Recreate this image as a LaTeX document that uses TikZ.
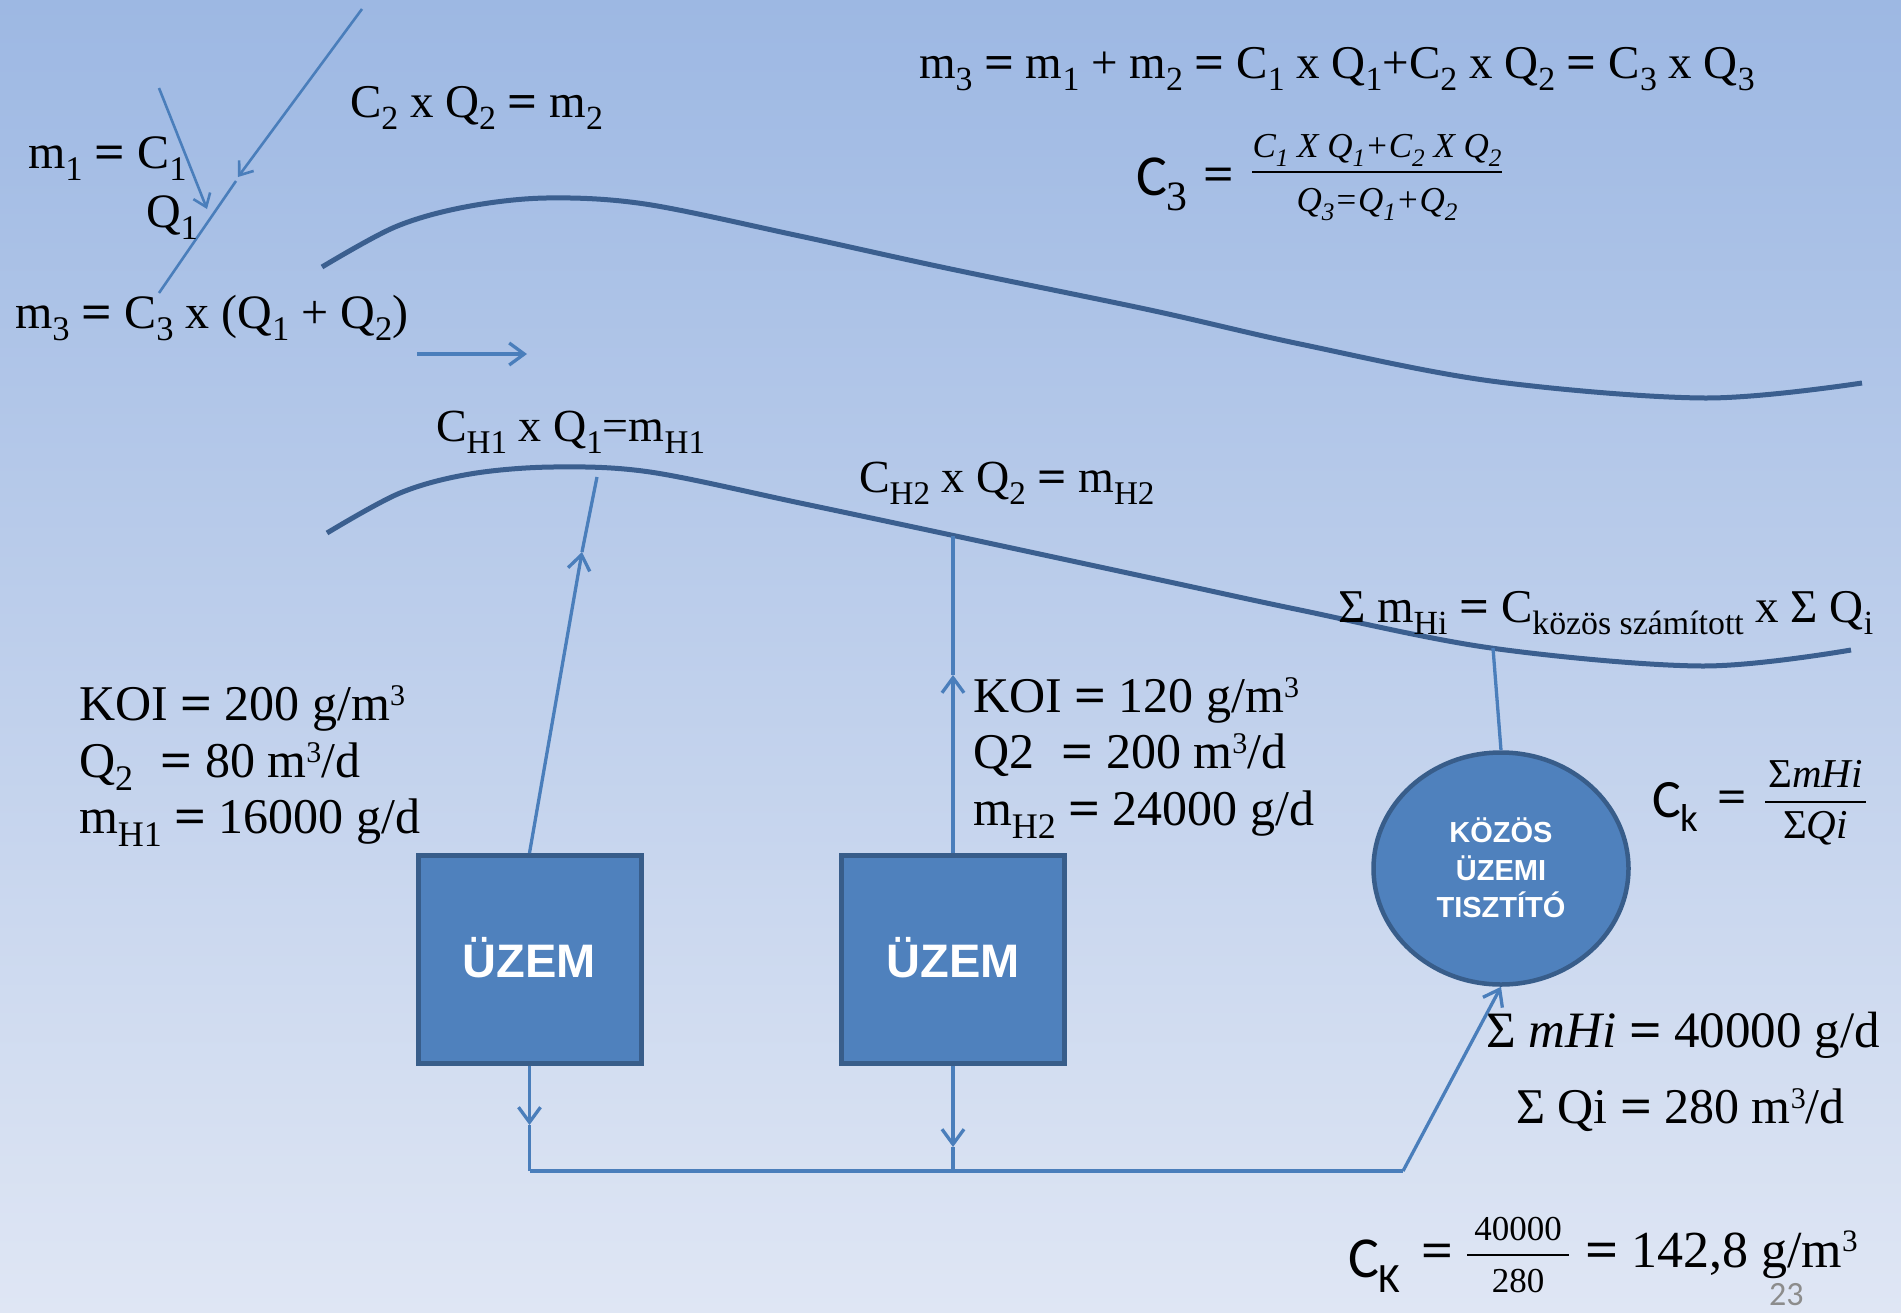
\documentclass[tikz,border=0pt]{standalone}
\usepackage{fontspec}
\usepackage{graphicx}
\setmainfont{Liberation Serif}
\newfontfamily\arialf{Liberation Sans}
\newfontfamily\carl{Carlito}
\usetikzlibrary{arrows.meta,shapes.geometric}
\definecolor{bgtop}{HTML}{9DB8E3}
\definecolor{bgbot}{HTML}{DFE6F4}
\definecolor{curvec}{HTML}{3B5F8F}
\definecolor{conn}{HTML}{4A7EBB}
\definecolor{boxfill}{HTML}{4F81BD}
\definecolor{boxbd}{HTML}{385D8A}
\definecolor{pgnum}{HTML}{8C8C8C}
\newcommand\sbx[1]{\raisebox{-0.27em}{\scalebox{0.72}{#1}}}
\newcommand\spx[1]{\raisebox{0.3em}{\scalebox{0.6}{#1}}}
\newcommand\eq{\scalebox{1.12}[1]{\textbf{=}}}
\begin{document}
\begin{tikzpicture}[x=1pt,y=-1pt,
  lbl/.style={anchor=base west, inner sep=0pt, outer sep=0pt, font=\fontsize{#1}{#1}\selectfont},
  lblc/.style={anchor=base, inner sep=0pt, outer sep=0pt, font=\fontsize{#1}{#1}\selectfont},
  wlbl/.style={anchor=base, inner sep=0pt, text=white, font=\arialf\bfseries\fontsize{#1}{#1}\selectfont},
  ubox/.style={draw=boxbd, fill=boxfill, line width=5pt, minimum width=223pt, minimum height=208pt, inner sep=0pt},
  kell/.style={ellipse, draw=boxbd, fill=boxfill, line width=4.5pt, minimum width=255pt, minimum height=232pt, inner sep=0pt},
  curve/.style={draw=curvec, line width=5pt},
  cline/.style={draw=conn, line width=3.3pt},
  thin/.style={draw=conn, line width=2.6pt},
  arr/.style={cline, -{Straight Barb[length=15pt,width=22pt]}},
  sarr/.style={thin, -{Straight Barb[length=12pt,width=18pt]}},
  frule/.style={draw=black, line width=2.4pt}
]
\useasboundingbox (0,0) rectangle (1901,1312);
\shade[top color=bgtop, bottom color=bgbot] (0,0) rectangle (1901,1312);

% curves
\draw[curve] plot[smooth,tension=0.55] coordinates {(322,267) (395,227) (465,207) (546,198) (645,204) (795,235) (946,268) (1150,310) (1300,344) (1491,381) (1705,398) (1862,383)};
\draw[curve] plot[smooth,tension=0.55] coordinates {(327,533) (400,493) (470,474) (553,467) (650,472) (800,503) (951,535) (1165,581) (1300,610) (1491,648) (1702,666) (1851,650)};

% top-left streams
\coordinate (ta1) at (362,9);
\coordinate (ta2) at (238,177);
\coordinate (tb1) at (236,181);
\coordinate (tb2) at (159,293);
\coordinate (tc1) at (159,88);
\coordinate (tc2) at (207,209);
\coordinate (ar1) at (417,354);
\coordinate (ar2) at (527,354);
\draw[sarr] (ta1) -- (ta2);
\draw[thin] (tb1) -- (tb2);
\draw[sarr] (tc1) -- (tc2);
\draw[arr] (ar1) -- (ar2);

% boxes and treatment plant
\node[ubox] (u1) at (529.5,959.5) {};
\node[ubox] (u2) at (953,959.5) {};
\node[wlbl=47] (u1t) at (529.5,977.5) {ÜZEM};
\node[wlbl=47] (u2t) at (953,977.5) {ÜZEM};
\node[kell] (k) at (1501,868.5) {};
\node[wlbl=29] (kt1) at (1501,842) {KÖZÖS};
\node[wlbl=29] (kt2) at (1501,880) {ÜZEMI};
\node[wlbl=29] (kt3) at (1501,917) {TISZTÍTÓ};

% connectors
\coordinate (h1a) at (582,552);
\coordinate (h1b) at (597,477);
\coordinate (h2a) at (953,675);
\coordinate (h2b) at (953,536);
\coordinate (d1a) at (529.5,1125);
\coordinate (d2a) at (953,1147);
\coordinate (j1) at (529.5,1171);
\coordinate (j2) at (953,1171);
\coordinate (j3) at (1403,1171);
\coordinate (s1) at (1493,648);
\draw[arr] (u1.north) -- (h1a);
\draw[cline] (h1a) -- (h1b);
\draw[arr] (u2.north) -- (h2a);
\draw[cline] (h2a) -- (h2b);
\draw[arr] (u1.south) -- (d1a);
\draw[cline] (d1a) -- (j1);
\draw[arr] (u2.south) -- (d2a);
\draw[cline] (d2a) -- (j2);
\draw[cline] (j1) -- (j3);
\draw[arr] (j3) -- (k.south);
\draw[cline] (k.north) -- (s1);

% top-left texts
\node[lbl=48] (t1) at (28,168) {m\sbx{1} \eq{} C\sbx{1}};
\node[lbl=48] (t2) at (146,227) {Q\sbx{1}};
\node[lbl=47] (t3) at (350,117) {C\sbx{2} x Q\sbx{2} \eq{} m\sbx{2}};
\node[lbl=48] (t4) at (15,328) {m\sbx{3} \eq{} C\sbx{3} x (Q\sbx{1} + Q\sbx{2})};

% top-right formulas
\node[lbl=47] (t5) at (919,78) {m\sbx{3} \eq{} m\sbx{1} + m\sbx{2} \eq{} C\sbx{1} x Q\sbx{1}+C\sbx{2} x Q\sbx{2} \eq{} C\sbx{3} x Q\sbx{3}};
\node[lbl=58] (c3l) at (1136,195) {{\carl C}\sbx{3}};
\node[lbl=48] (c3e) at (1203,190) {\eq};
\node[lblc=35] (c3n) at (1377,157) {\itshape C\sbx{1} X Q\sbx{1}+C\sbx{2} X Q\sbx{2}};
\node[lblc=35] (c3d) at (1377,211) {\itshape Q\sbx{3}=Q\sbx{1}+Q\sbx{2}};
\coordinate (c3r1) at (1252,172);
\coordinate (c3r2) at (1502,172);
\draw[frule] (c3r1) -- (c3r2);

% H labels
\node[lbl=46] (h1t) at (436,441) {C\sbx{H1} x Q\sbx{1}=m\sbx{H1}};
\node[lbl=46] (h2t) at (859,492) {C\sbx{H2} x Q\sbx{2} \eq{} m\sbx{H2}};
\node[lbl=47] (sumt) at (1338,622) {Σ m\sbx{Hi} \eq{} C\sbx{közös számított} x Σ Q\sbx{i}};

% KOI blocks
\node[lbl=50] (k1) at (79,720) {KOI \eq{} 200 g/m\spx{3}};
\node[lbl=50] (k2) at (79,777) {Q\sbx{2}\hspace{0.3em} \eq{} 80 m\spx{3}/d};
\node[lbl=50] (k3) at (79,833) {m\sbx{H1} \eq{} 16000 g/d};
\node[lbl=50] (r1) at (973,712) {KOI \eq{} 120 g/m\spx{3}};
\node[lbl=50] (r2) at (973,768) {Q2\hspace{0.3em} \eq{} 200 m\spx{3}/d};
\node[lbl=50] (r3) at (973,825) {m\sbx{H2} \eq{} 24000 g/d};

% Ck formula
\node[lbl=54] (ckl) at (1652,817) {\carl C\sbx{k}};
\node[lbl=46] (cke) at (1717,812) {\eq};
\node[lblc=41] (ckn) at (1815.5,787) {Σ\textit{mHi}};
\node[lblc=41] (ckd) at (1815.5,838) {Σ\textit{Qi}};
\coordinate (ckr1) at (1765,802);
\coordinate (ckr2) at (1866,802);
\draw[frule] (ckr1) -- (ckr2);

% sums
\node[lbl=51] (sm1) at (1486,1047) {Σ \textit{mHi} \eq{} 40000 g/d};
\node[lbl=50] (sm2) at (1516,1123) {Σ Qi \eq{} 280 m\spx{3}/d};

% CK result
\node[lbl=58] (cKl) at (1348,1277) {\carl C\sbx{K}};
\node[lbl=50] (cKe) at (1421,1267) {\eq};
\node[lblc=35] (cKn) at (1518,1240) {40000};
\node[lblc=35] (cKd) at (1518,1292) {280};
\coordinate (cKr1) at (1467,1255);
\coordinate (cKr2) at (1569,1255);
\draw[frule] (cKr1) -- (cKr2);
\node[lbl=52] (cKv) at (1585,1267) {\eq{} 142,8 g/m\spx{3}};

% page number
\node[lbl=34, text=pgnum, font=\carl\fontsize{34}{34}\selectfont] (pg) at (1769,1305) {23};
\end{tikzpicture}
\end{document}
